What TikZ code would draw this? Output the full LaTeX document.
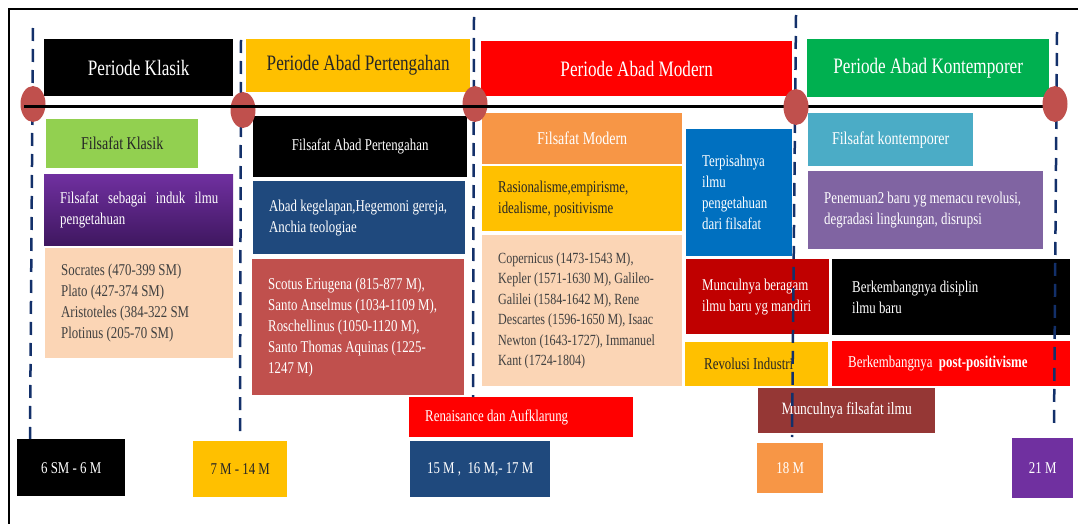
\documentclass[tikz,border=0pt]{standalone}
\usepackage{fontspec}
\setmainfont{Liberation Serif}[FakeStretch=0.78]
\usetikzlibrary{shapes}
\definecolor{gold}{HTML}{FFC000}
\definecolor{leaf}{HTML}{92D050}
\definecolor{grass}{HTML}{00B050}
\definecolor{peach}{HTML}{FBD5B5}
\definecolor{navy}{HTML}{1F497D}
\definecolor{brick}{HTML}{C0504D}
\definecolor{darkred}{HTML}{C00000}
\definecolor{brown}{HTML}{953735}
\definecolor{tangerine}{HTML}{F79646}
\definecolor{ocean}{HTML}{0070C0}
\definecolor{teal}{HTML}{4BACC6}
\definecolor{lilac}{HTML}{8064A2}
\definecolor{violet}{HTML}{7030A0}
\definecolor{plum}{HTML}{3F1760}
\definecolor{darktext}{HTML}{262626}
\definecolor{graytext}{HTML}{404040}
\definecolor{guideblue}{HTML}{13306A}
\tikzset{
        plain box/.style={
                anchor=north west, % boxes are placed by their top left corner
                inner sep=0pt,
                font=\fontsize{16.5}{21}\selectfont,
        },
        head box/.style={
                plain box,
                font=\fontsize{22}{26}\selectfont,
        },
        title box/.style={
                plain box,
                font=\fontsize{18}{22}\selectfont,
        },
        text box/.style={
                plain box,
                minimum width={#1},
                text width={#1},
                align=left,
                execute at begin node={\leftskip=16pt\spaceskip=0pt\xspaceskip=0pt\hyphenpenalty=10000}, % text starts 16pt in, font spaces
        },
        time dot/.style={ellipse, fill=brick, minimum width=25pt, minimum height=36pt, inner sep=0pt},
        guide line/.style={draw=guideblue, line width=2.5pt, dash pattern=on 13pt off 8pt},
    }
\begin{document}
\begin{tikzpicture}[x=1pt, y=-1pt]
    \useasboundingbox (0,0) rectangle (1078,524);
    \draw[line width=2pt] (9,524) -- (9,9) -- (1078,9);
    % periods
    \node[head box, fill=black, text=white, minimum width=189pt, minimum height=57pt] (pk) at (44,39) {Periode Klasik};
    \node[head box, fill=gold, text=darktext, minimum width=224pt, minimum height=53pt] (pp) at (246,39) {Periode Abad Pertengahan};
    \node[head box, fill=red, text=white, minimum width=311pt, minimum height=55pt] (pm) at (481,41) {Periode Abad Modern};
    \node[head box, fill=grass, text=white, minimum width=242pt, minimum height=58pt] (pkt) at (807,39) {Periode Abad Kontemporer};
    % klasik
    \node[title box, fill=leaf, text=darktext, minimum width=152pt, minimum height=49pt] (fk) at (46,119) {Filsafat Klasik};
    \node[text box=189pt, top color=violet, bottom color=plum, text=white, minimum height=71pt] (induk) at (44,174)
        {Filsafat\hfill sebagai\hfill induk\hfill ilmu\hspace*{15pt}\mbox{}\\pengetahuan};
    \node[text box=188pt, fill=peach, text=graytext, minimum height=110pt] (tokoh1) at (45,248)
        {Socrates (470-399 SM)\\Plato (427-374 SM)\\Aristoteles (384-322 SM\\Plotinus (205-70 SM)};
    % pertengahan
    \node[plain box, fill=black, text=white, minimum width=214pt, minimum height=61pt] (fap) at (253,116) {Filsafat Abad Pertengahan};
    \node[text box=212pt, fill=navy, text=white, minimum height=73pt] (gelap) at (253,181)
        {Abad kegelapan,Hegemoni gereja,\\Anchia teologiae};
    \node[text box=212pt, fill=brick, text=white, minimum height=136pt] (tokoh2) at (252,259)
        {Scotus Eriugena (815-877 M),\\Santo Anselmus (1034-1109 M),\\Roschellinus (1050-1120 M),\\Santo Thomas Aquinas (1225-\\1247 M)};
    % modern
    \node[title box, fill=tangerine, text=white, minimum width=200pt, minimum height=51pt] (fm) at (482,113) {Filsafat Modern};
    \node[text box=200pt, fill=gold, text=darktext, minimum height=65pt] (aliran) at (482,166)
        {Rasionalisme,empirisme,\\idealisme, positivisme};
    \node[text box=200pt, fill=peach, text=graytext, minimum height=151pt, font=\fontsize{15.5}{20.5}\selectfont] (tokoh3) at (482,235)
        {Copernicus (1473-1543 M),\\Kepler (1571-1630 M), Galileo-\\Galilei (1584-1642 M), Rene\\Descartes (1596-1650 M), Isaac\\Newton (1643-1727), Immanuel\\Kant (1724-1804)};
    \node[text box=106pt, fill=ocean, text=white, minimum height=127pt] (pisah) at (686,129)
        {Terpisahnya\\ilmu\\pengetahuan\\dari filsafat\\[12pt]};
    \node[text box=143pt, fill=darkred, text=white, minimum height=75pt] (ragam) at (686,259)
        {Munculnya beragam\\ilmu baru yg mandiri};
    \node[text box=143pt, fill=gold, text=darktext, minimum height=44pt] (revolusi) at (685,342) {\hspace*{3pt}Revolusi Industri};
    \node[text box=224pt, fill=red, text=white, minimum height=40pt] (renai) at (409,397) {Renaisance dan Aufklarung};
    \node[plain box, fill=brown, text=white, minimum width=177pt, minimum height=45pt, font=\fontsize{17.3}{21}\selectfont] (fi) at (758,388) {Munculnya filsafat ilmu};
    % kontemporer
    \node[title box, fill=teal, text=white, minimum width=165pt, minimum height=53pt] (fkt) at (808,113) {Filsafat kontemporer};
    \node[text box=235pt, fill=lilac, text=white, minimum height=78pt] (temu) at (808,171)
        {Penemuan2 baru yg memacu revolusi,\\degradasi lingkungan, disrupsi};
    \node[text box=238pt, fill=black, text=white, minimum height=76pt] (disiplin) at (832,259)
        {\hspace*{4pt}Berkembangnya disiplin\\\hspace*{4pt}ilmu baru};
    \node[text box=238pt, fill=red, text=white, minimum height=45pt] (postpos) at (832,341)
        {Berkembangnya~ \textbf{post-positivisme}};
    % years
    \node[plain box, fill=black, text=white, minimum width=108pt, minimum height=57pt] (y1) at (17,439) {6 SM - 6 M};
    \node[plain box, fill=gold, text=darktext, minimum width=94pt, minimum height=56pt] (y2) at (193,441) {7 M - 14 M};
    \node[plain box, fill=navy, text=white, minimum width=140pt, minimum height=56pt] (y3) at (410,441) {15 M ,~ 16 M,- 17 M};
    \node[plain box, fill=tangerine, text=white, minimum width=66pt, minimum height=50pt] (y4) at (757,443) {18 M};
    \node[plain box, fill=violet, text=white, minimum width=61pt, minimum height=60pt] (y5) at (1012,438) {21 M};
    % guides
    \coordinate (g1a) at (33,28);   \coordinate (g1b) at (30,439);
    \coordinate (g2a) at (241,40);  \coordinate (g2b) at (240,433);
    \coordinate (g3a) at (474,17);  \coordinate (g3b) at (473,397);
    \coordinate (g4a) at (796,15);  \coordinate (g4b) at (792,437);
    \coordinate (g5a) at (1057,32); \coordinate (g5b) at (1054,425);
    \foreach \g in {1,...,5}
        \draw[guide line] (g\g a) -- (g\g b);
    % time line
    \node[time dot] (c1) at (33,104) {};
    \node[time dot] (c2) at (243,110) {};
    \node[time dot] (c3) at (475,104) {};
    \coordinate (t0) at (24,106.5);
    \coordinate (t1) at (1045,106.5);
    \draw[line width=3pt] (t0) -- (t1);
    \node[time dot] (c4) at (796,107) {};
    \node[time dot] (c5) at (1055,104) {};
\end{tikzpicture}
\end{document}
